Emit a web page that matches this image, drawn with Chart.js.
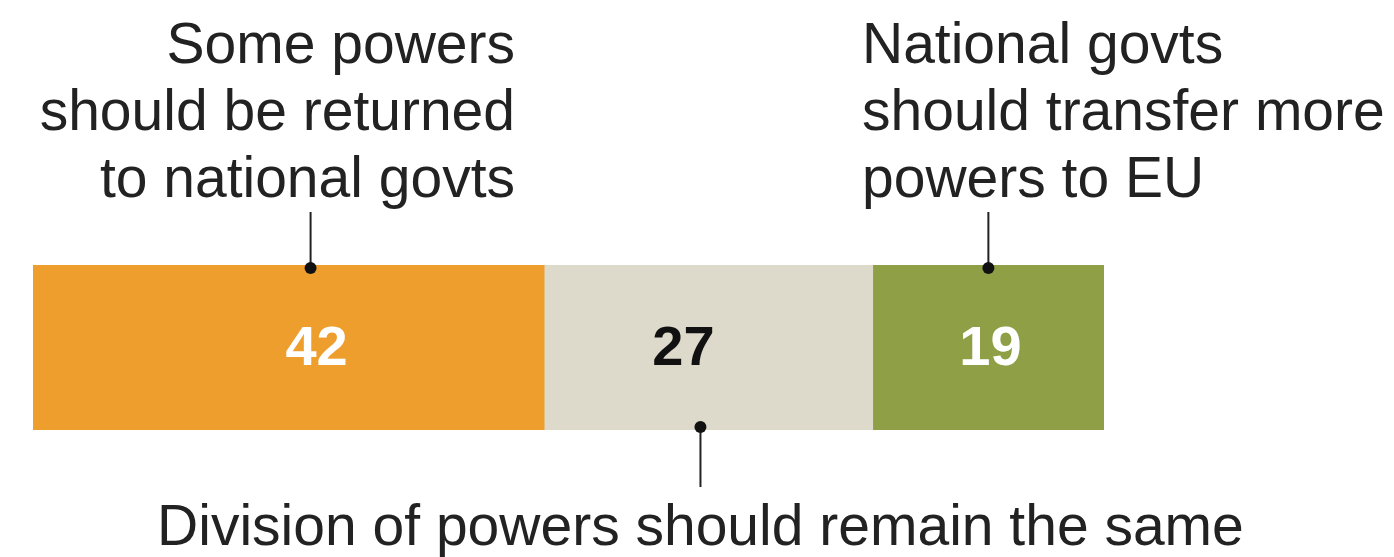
<!DOCTYPE html>
<html>
<head>
<meta charset="utf-8">
<script src="https://cdn.jsdelivr.net/npm/chart.js@4"></script>
<style>
  html, body { margin: 0; padding: 0; background: #fff; }
  #wrap { width: 1394px; height: 557px; }
</style>
</head>
<body>
<div id="wrap"><canvas id="powers"></canvas></div>
<script>
const categories = ['EU'];
const seriesNames = [
  'Some powers should be returned to national govts',
  'Division of powers should remain the same',
  'National govts should transfer more powers to EU'
];
const returned = [42];
const remain = [27];
const transfer = [19];

const barColors = ['#EE9E2D', '#DDD9CB', '#8E9F45'];
const valueColors = ['#ffffff', '#111111', '#ffffff'];
// small nudges of labels / leaders from the segment centres, as in the original
const labelShift = [28, -25, 2];
const leaderShift = [22, -8, 0];

const FONT = '"Liberation Sans", Arial, sans-serif';

const annotations = {
  id: 'annotations',
  afterDatasetsDraw(chart) {
    const ctx = chart.ctx;
    const area = chart.chartArea;
    const bars = [0, 1, 2].map(function (i) { return chart.getDatasetMeta(i).data[0]; });
    const mid = bars.map(function (b) { return (b.x + b.base) / 2; });

    // value labels
    chart.data.datasets.forEach(function (ds, i) {
      ctx.save();
      ctx.fillStyle = valueColors[i];
      ctx.font = 'bold 56px ' + FONT;
      ctx.textAlign = 'center';
      ctx.textBaseline = 'middle';
      ctx.fillText(ds.data[0], mid[i] + labelShift[i], bars[i].y + 2);
      ctx.restore();
    });

    function leader(x, y1, y2, dotY) {
      ctx.save();
      ctx.strokeStyle = '#222';
      ctx.lineWidth = 2;
      ctx.beginPath();
      ctx.moveTo(x, y1);
      ctx.lineTo(x, y2);
      ctx.stroke();
      ctx.fillStyle = '#111';
      ctx.beginPath();
      ctx.arc(x, dotY, 6, 0, Math.PI * 2);
      ctx.fill();
      ctx.restore();
    }

    ctx.save();
    ctx.fillStyle = '#222';
    ctx.font = '57px ' + FONT;
    ctx.textBaseline = 'alphabetic';

    ctx.textAlign = 'right';
    ['Some powers', 'should be returned', 'to national govts'].forEach(function (t, k) {
      ctx.fillText(t, 515, 63 + k * 67);
    });

    ctx.textAlign = 'left';
    ['National govts', 'should transfer more', 'powers to EU'].forEach(function (t, k) {
      ctx.fillText(t, 862, 63 + k * 67);
    });

    ctx.textAlign = 'center';
    ctx.fillText('Division of powers should remain the same', mid[1] + leaderShift[1], 545);
    ctx.restore();

    leader(mid[0] + leaderShift[0], 212, area.top, area.top + 3);
    leader(mid[2] + leaderShift[2], 212, area.top, area.top + 3);
    leader(mid[1] + leaderShift[1], area.bottom, 487, area.bottom - 3);
  }
};

new Chart(document.getElementById('powers'), {
  type: 'bar',
  data: {
    labels: categories,
    datasets: [
      { label: seriesNames[0], data: returned, backgroundColor: barColors[0] },
      { label: seriesNames[1], data: remain, backgroundColor: barColors[1] },
      { label: seriesNames[2], data: transfer, backgroundColor: barColors[2] }
    ]
  },
  options: {
    indexAxis: 'y',
    responsive: true,
    maintainAspectRatio: false,
    animation: false,
    layout: { padding: { left: 33, right: 290, top: 265, bottom: 127 } },
    datasets: { bar: { barPercentage: 1, categoryPercentage: 1, borderWidth: 0 } },
    plugins: { legend: { display: false }, tooltip: { enabled: false } },
    scales: {
      x: { stacked: true, display: false, min: 0, max: 88 },
      y: { stacked: true, display: false }
    }
  },
  plugins: [annotations]
});
</script>
</body>
</html>
